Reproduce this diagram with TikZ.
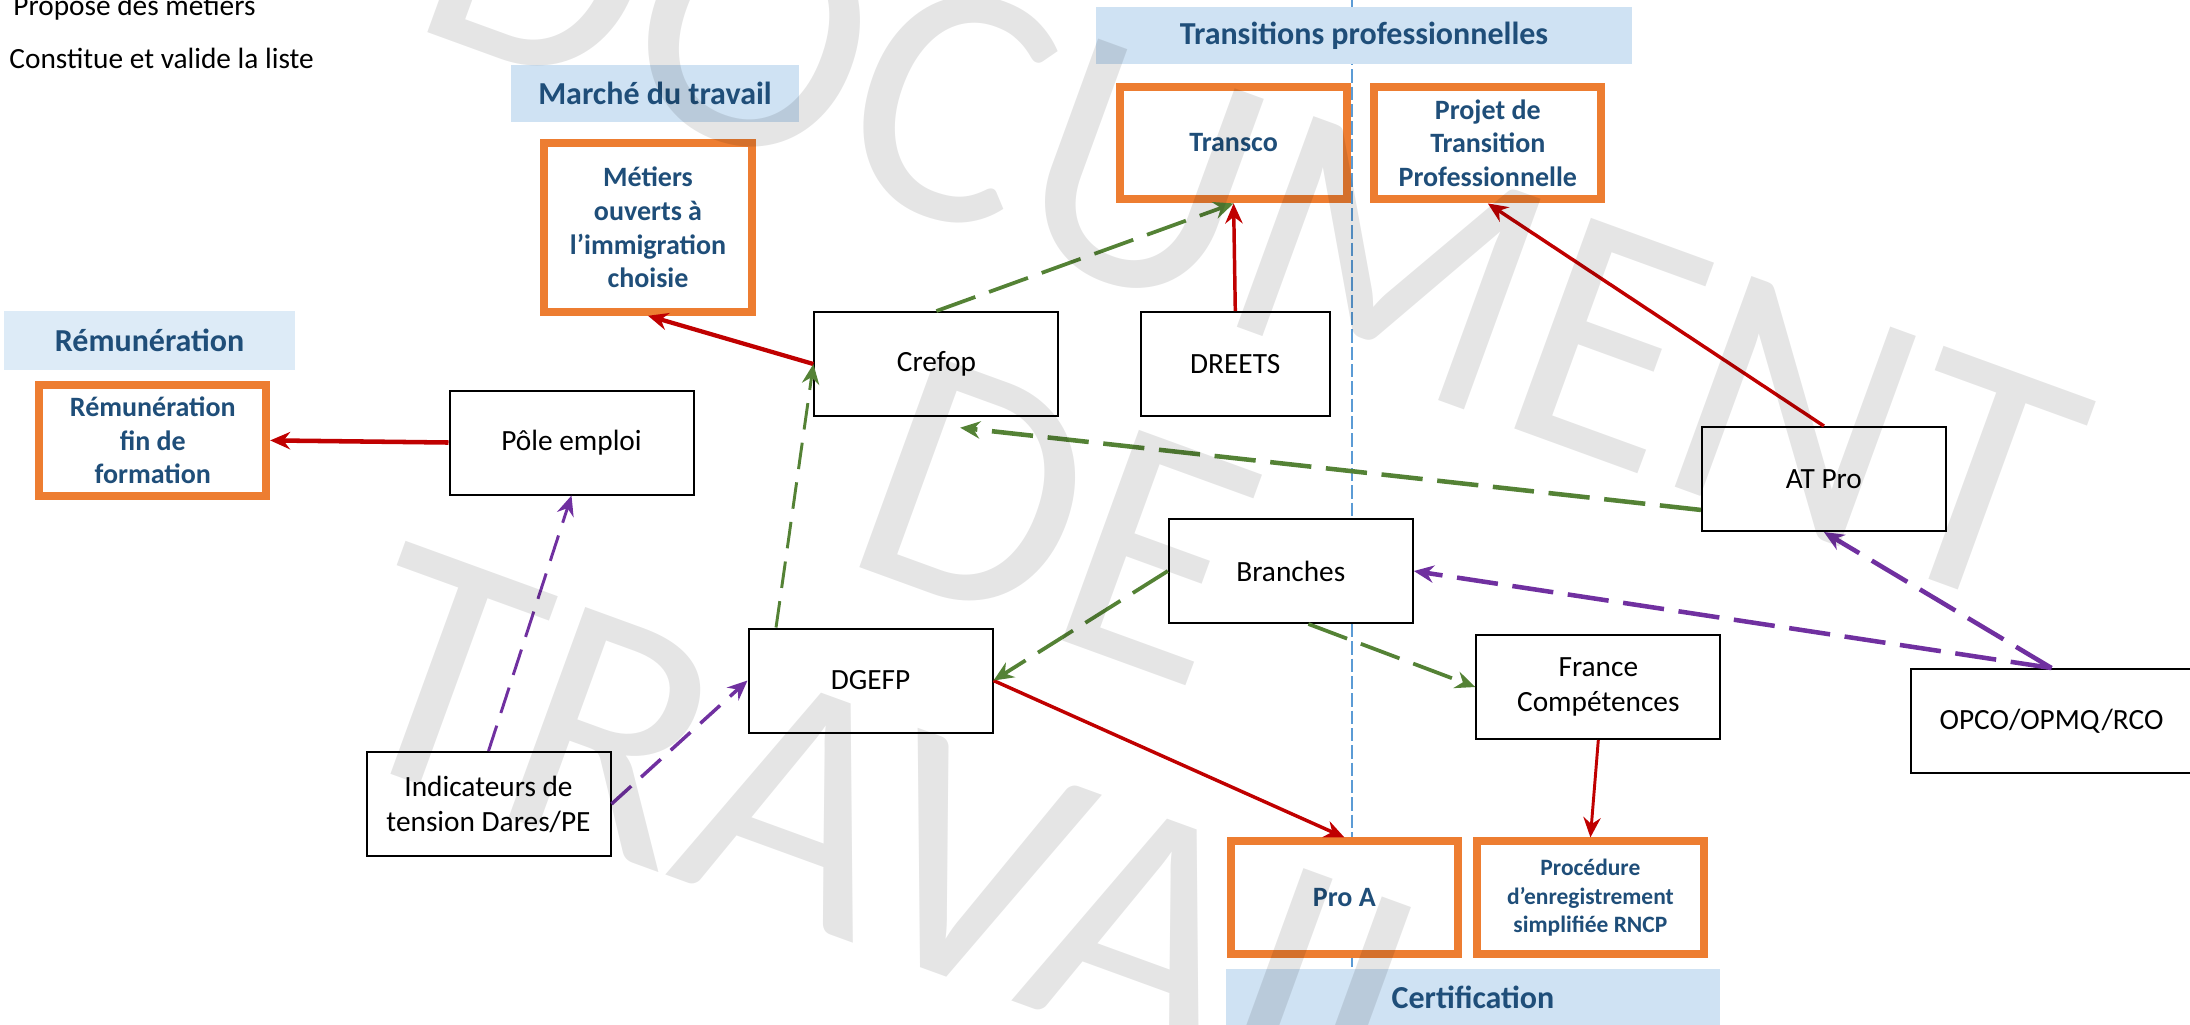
\documentclass[tikz,border=0pt]{standalone}
\usepackage{fontspec}
\setmainfont{Carlito}
\usetikzlibrary{arrows.meta}
\definecolor{corange}{HTML}{ED7D31}
\definecolor{cband}{HTML}{CFE2F3}
\definecolor{cbandl}{HTML}{DDEBF7}
\definecolor{cnavy}{HTML}{1F4E79}
\definecolor{cred}{HTML}{C00000}
\definecolor{cgreen}{HTML}{548235}
\definecolor{cpurple}{HTML}{7030A0}
\definecolor{csep}{HTML}{5B9BD5}

\begin{document}
\begin{tikzpicture}[x=0.375pt, y=-0.375pt,
	box/.style={draw, fill=white, line width=0.75pt, minimum width=91.5pt, minimum height=39pt, inner sep=0pt, align=center, font=\fontsize{11}{13.1}\selectfont},
	goal/.style={draw=corange, fill=white, line width=3pt, minimum width=85pt, minimum height=42.3pt, inner sep=0pt, align=center, text=cnavy, font=\fontsize{10.5}{12.6}\selectfont\bfseries},
	band/.style={fill=cband, inner sep=0pt, minimum height=21.4pt, text=cnavy, font=\fontsize{12}{14}\selectfont\bfseries},
	head/.style={-{Stealth[length=7.5pt,width=6.5pt,inset=2.5pt]}},
	ctrl/.style={head, draw=cred, line width=1.3pt},
	flow/.style={head, draw=cgreen, line width=1.7pt, dash pattern=on 15.5pt off 5.5pt},
	data/.style={head, draw=cpurple, line width=1.7pt, dash pattern=on 15.5pt off 5.5pt},
	light/.style={line width=1.1pt, dash pattern=on 10pt off 5pt},
	wm/.style={rotate=-20, inner sep=0pt, text=black, text opacity=0.1, font=\fontsize{131}{133}\selectfont}]
		\useasboundingbox (0,0) rectangle (2190,1024);
		\clip (0,0) rectangle (2190,1024);
		\fill[white] (0,0) rectangle (2190,1024);
		\draw[csep, line width=0.6pt, dash pattern=on 5pt off 1.5pt] (1352,0) -- (1352,975);

		\node[anchor=base west, font=\fontsize{11}{13}\selectfont] (leg1) at (4,15) {Propose des métiers};
		\node[anchor=base west, font=\fontsize{11}{13}\selectfont] (leg2) at (0,68) {Constitue et valide la liste};

		\node[band, minimum width=201pt] (tp) at (1364,35.8) {Transitions professionnelles};
		\node[band, minimum width=108pt] (mt) at (655,93.4) {Marché du travail};
		\node[band, minimum width=109pt, minimum height=22.1pt, fill=cbandl] (rb) at (149.6,340.5) {Rémunération};
		\node[band, minimum width=185.3pt] (cert) at (1473,997.5) {Certification};

		\node[goal, minimum width=78pt, minimum height=63.2pt] (metiers) at (648,227.5) {Métiers\\ouverts à\\l’immigration\\choisie};
		\node[goal, minimum height=41.7pt] (remf) at (152.8,440.4) {Rémunération\\fin de\\formation};
		\node[goal] (transco) at (1233.6,143) {Transco};
		\node[goal] (projet) at (1487.8,143) {Projet de\\Transition\\Professionnelle};
		\node[goal] (proa) at (1344.4,897.8) {Pro A};
		\node[goal, font=\fontsize{8.8}{10.6}\selectfont\bfseries] (proc) at (1590.4,897.8) {Procédure\\d’enregistrement\\simplifiée RNCP};

		\node[box] (pe) at (571.5,442.5) {Pôle emploi};
		\node[box] (crefop) at (936.4,364) {Crefop};
		\node[box, minimum width=70.7pt] (dreets) at (1235.3,364.2) {DREETS};
		\node[box] (atpro) at (1823.9,479) {AT Pro};
		\node[box] (branches) at (1290.8,571) {Branches};
		\node[box] (fc) at (1598.3,687) {France\\Compétences};
		\node[box] (dgefp) at (870.5,680.5) {DGEFP};
		\node[box] (ind) at (488.5,804) {Indicateurs de\\tension Dares/PE};
		\node[box, minimum width=105.4pt] (opco) at (2051.5,721) {OPCO/OPMQ/RCO};

		\draw[ctrl, line width=1.7pt] (pe.west) to (remf.east);
		\draw[ctrl, line width=1.6pt] (crefop.west) to (metiers.south);
		\draw[ctrl] (dreets.north) to (transco.south);
		\draw[ctrl] (atpro.north) to (projet.south);
		\draw[ctrl] (dgefp.east) to (proa.north);
		\draw[ctrl, line width=1.1pt] (fc.south) to (proc.north);
		\draw[flow, line width=1.4pt] (crefop.north) to (transco.south);
		\draw[flow, light] ([xshift=10.7pt]dgefp.north west) to (crefop.west);
		\draw[flow] ([yshift=-11.6pt]atpro.west) to ([xshift=8.9pt,yshift=-4pt]crefop.south);
		\draw[flow, line width=1.4pt] (branches.west) to (dgefp.east);
		\draw[flow, line width=1.4pt] ([xshift=6.6pt]branches.south) to (fc.west);
		\draw[data, light] (ind.north) to (pe.south);
		\draw[data, light, line width=1.3pt] (ind.east) to (dgefp.west);
		\draw[data] (opco.north) to (branches.east);
		\draw[data] (opco.north) to (atpro.south);

		\node[wm] (wm1) at (1253,214) {DOCUMENT};
		\node[wm] (wm2) at (1057,520) {DE};
		\node[wm] (wm3) at (912,845) {TRAVAIL};
	\end{tikzpicture}
\end{document}
